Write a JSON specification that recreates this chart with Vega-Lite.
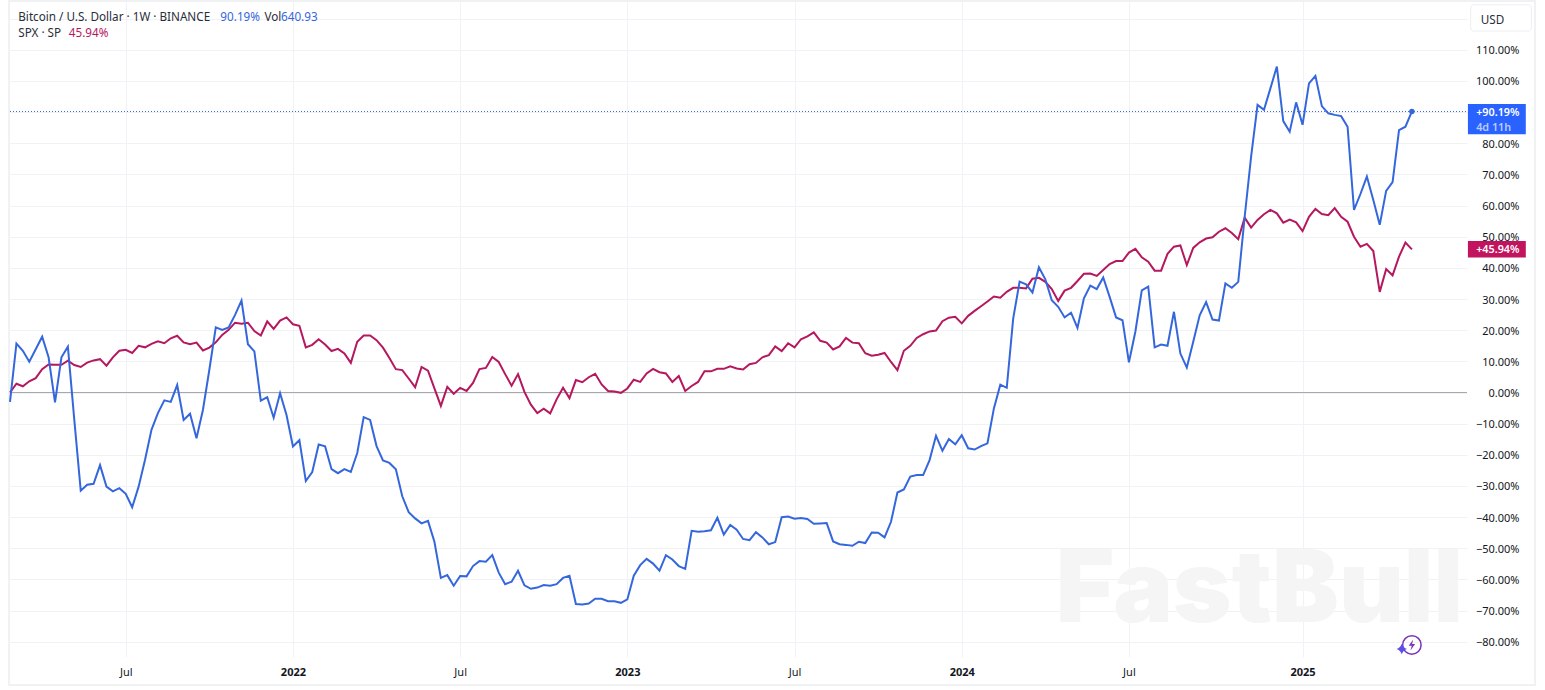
{"$schema":"https://vega.github.io/schema/vega-lite/v6.json","width":1457,"height":656,"autosize":{"type":"none"},"padding":{"left":10,"top":1,"right":78,"bottom":33},"background":"#ffffff","config":{"view":{"stroke":null},"font":"Noto Sans"},
"datasets":{"weekly":[
{"week":"2021-03-01","series":"SPX","value":0},{"week":"2021-03-08","series":"SPX","value":2.8},{"week":"2021-03-15","series":"SPX","value":2},{"week":"2021-03-22","series":"SPX","value":3.6},{"week":"2021-03-29","series":"SPX","value":4.6},{"week":"2021-04-05","series":"SPX","value":7.5},{"week":"2021-04-12","series":"SPX","value":9},{"week":"2021-04-19","series":"SPX","value":8.9},{"week":"2021-04-26","series":"SPX","value":8.9},{"week":"2021-05-03","series":"SPX","value":10.2},{"week":"2021-05-10","series":"SPX","value":8.8},{"week":"2021-05-17","series":"SPX","value":8.2},{"week":"2021-05-24","series":"SPX","value":9.6},{"week":"2021-05-31","series":"SPX","value":10.3},{"week":"2021-06-07","series":"SPX","value":10.7},{"week":"2021-06-14","series":"SPX","value":8.6},{"week":"2021-06-21","series":"SPX","value":11.3},{"week":"2021-06-28","series":"SPX","value":13.4},{"week":"2021-07-05","series":"SPX","value":13.7},{"week":"2021-07-12","series":"SPX","value":12.7},{"week":"2021-07-19","series":"SPX","value":15},{"week":"2021-07-26","series":"SPX","value":14.5},{"week":"2021-08-02","series":"SPX","value":15.6},{"week":"2021-08-09","series":"SPX","value":16.4},{"week":"2021-08-16","series":"SPX","value":15.8},{"week":"2021-08-23","series":"SPX","value":17.4},{"week":"2021-08-30","series":"SPX","value":18.2},{"week":"2021-09-06","series":"SPX","value":16.1},{"week":"2021-09-13","series":"SPX","value":15.5},{"week":"2021-09-20","series":"SPX","value":16},{"week":"2021-09-27","series":"SPX","value":13.5},{"week":"2021-10-04","series":"SPX","value":14.4},{"week":"2021-10-11","series":"SPX","value":16.1},{"week":"2021-10-18","series":"SPX","value":18.5},{"week":"2021-10-25","series":"SPX","value":20.1},{"week":"2021-11-01","series":"SPX","value":22.4},{"week":"2021-11-08","series":"SPX","value":22.1},{"week":"2021-11-15","series":"SPX","value":22.4},{"week":"2021-11-22","series":"SPX","value":19.7},{"week":"2021-11-29","series":"SPX","value":18.3},{"week":"2021-12-06","series":"SPX","value":22.8},{"week":"2021-12-13","series":"SPX","value":20.4},{"week":"2021-12-20","series":"SPX","value":23.1},{"week":"2021-12-27","series":"SPX","value":24.1},{"week":"2022-01-03","series":"SPX","value":21.9},{"week":"2022-01-10","series":"SPX","value":21.4},{"week":"2022-01-17","series":"SPX","value":14.5},{"week":"2022-01-24","series":"SPX","value":15.3},{"week":"2022-01-31","series":"SPX","value":17.1},{"week":"2022-02-07","series":"SPX","value":15.4},{"week":"2022-02-14","series":"SPX","value":13.3},{"week":"2022-02-21","series":"SPX","value":14},{"week":"2022-02-28","series":"SPX","value":12.5},{"week":"2022-03-07","series":"SPX","value":9.5},{"week":"2022-03-14","series":"SPX","value":16.3},{"week":"2022-03-21","series":"SPX","value":18.3},{"week":"2022-03-28","series":"SPX","value":18.3},{"week":"2022-04-04","series":"SPX","value":16.8},{"week":"2022-04-11","series":"SPX","value":14.4},{"week":"2022-04-18","series":"SPX","value":11.1},{"week":"2022-04-25","series":"SPX","value":7.5},{"week":"2022-05-02","series":"SPX","value":7.2},{"week":"2022-05-09","series":"SPX","value":4.5},{"week":"2022-05-16","series":"SPX","value":1.7},{"week":"2022-05-23","series":"SPX","value":8.2},{"week":"2022-05-30","series":"SPX","value":7},{"week":"2022-06-06","series":"SPX","value":1.3},{"week":"2022-06-13","series":"SPX","value":-4.3},{"week":"2022-06-20","series":"SPX","value":1.8},{"week":"2022-06-27","series":"SPX","value":-0.4},{"week":"2022-07-04","series":"SPX","value":1.5},{"week":"2022-07-11","series":"SPX","value":0.5},{"week":"2022-07-18","series":"SPX","value":3.1},{"week":"2022-07-25","series":"SPX","value":7.5},{"week":"2022-08-01","series":"SPX","value":7.9},{"week":"2022-08-08","series":"SPX","value":11.4},{"week":"2022-08-15","series":"SPX","value":9.8},{"week":"2022-08-22","series":"SPX","value":5.9},{"week":"2022-08-29","series":"SPX","value":2.2},{"week":"2022-09-05","series":"SPX","value":5.9},{"week":"2022-09-12","series":"SPX","value":0.2},{"week":"2022-09-19","series":"SPX","value":-3.9},{"week":"2022-09-26","series":"SPX","value":-6.6},{"week":"2022-10-03","series":"SPX","value":-5.2},{"week":"2022-10-10","series":"SPX","value":-6.7},{"week":"2022-10-17","series":"SPX","value":-2.2},{"week":"2022-10-24","series":"SPX","value":1.5},{"week":"2022-10-31","series":"SPX","value":-1.8},{"week":"2022-11-07","series":"SPX","value":4},{"week":"2022-11-14","series":"SPX","value":3.3},{"week":"2022-11-21","series":"SPX","value":4.9},{"week":"2022-11-28","series":"SPX","value":6},{"week":"2022-12-05","series":"SPX","value":2.6},{"week":"2022-12-12","series":"SPX","value":0.5},{"week":"2022-12-19","series":"SPX","value":0.3},{"week":"2022-12-26","series":"SPX","value":-0.1},{"week":"2023-01-02","series":"SPX","value":1.3},{"week":"2023-01-09","series":"SPX","value":4.1},{"week":"2023-01-16","series":"SPX","value":3.4},{"week":"2023-01-23","series":"SPX","value":6.1},{"week":"2023-01-30","series":"SPX","value":7.6},{"week":"2023-02-06","series":"SPX","value":6.5},{"week":"2023-02-13","series":"SPX","value":6.1},{"week":"2023-02-20","series":"SPX","value":3.4},{"week":"2023-02-27","series":"SPX","value":5.3},{"week":"2023-03-06","series":"SPX","value":0.5},{"week":"2023-03-13","series":"SPX","value":2.1},{"week":"2023-03-20","series":"SPX","value":3.4},{"week":"2023-03-27","series":"SPX","value":6.8},{"week":"2023-04-03","series":"SPX","value":6.8},{"week":"2023-04-10","series":"SPX","value":7.6},{"week":"2023-04-17","series":"SPX","value":7.6},{"week":"2023-04-24","series":"SPX","value":8.4},{"week":"2023-05-01","series":"SPX","value":7.7},{"week":"2023-05-08","series":"SPX","value":7.4},{"week":"2023-05-15","series":"SPX","value":9.1},{"week":"2023-05-22","series":"SPX","value":9.5},{"week":"2023-05-29","series":"SPX","value":11.3},{"week":"2023-06-05","series":"SPX","value":12},{"week":"2023-06-12","series":"SPX","value":14.8},{"week":"2023-06-19","series":"SPX","value":13.3},{"week":"2023-06-26","series":"SPX","value":15.8},{"week":"2023-07-03","series":"SPX","value":14.5},{"week":"2023-07-10","series":"SPX","value":17.1},{"week":"2023-07-17","series":"SPX","value":18},{"week":"2023-07-24","series":"SPX","value":19.3},{"week":"2023-07-31","series":"SPX","value":16.6},{"week":"2023-08-07","series":"SPX","value":16},{"week":"2023-08-14","series":"SPX","value":13.8},{"week":"2023-08-21","series":"SPX","value":14.8},{"week":"2023-08-28","series":"SPX","value":17.5},{"week":"2023-09-04","series":"SPX","value":16},{"week":"2023-09-11","series":"SPX","value":15.8},{"week":"2023-09-18","series":"SPX","value":12.6},{"week":"2023-09-25","series":"SPX","value":11.8},{"week":"2023-10-02","series":"SPX","value":12.1},{"week":"2023-10-09","series":"SPX","value":12.7},{"week":"2023-10-16","series":"SPX","value":9.8},{"week":"2023-10-23","series":"SPX","value":7.2},{"week":"2023-10-30","series":"SPX","value":13.4},{"week":"2023-11-06","series":"SPX","value":15},{"week":"2023-11-13","series":"SPX","value":17.5},{"week":"2023-11-20","series":"SPX","value":18.7},{"week":"2023-11-27","series":"SPX","value":19.6},{"week":"2023-12-04","series":"SPX","value":19.9},{"week":"2023-12-11","series":"SPX","value":22.9},{"week":"2023-12-18","series":"SPX","value":24},{"week":"2023-12-25","series":"SPX","value":24.3},{"week":"2024-01-01","series":"SPX","value":22.2},{"week":"2024-01-08","series":"SPX","value":24.6},{"week":"2024-01-15","series":"SPX","value":26.2},{"week":"2024-01-22","series":"SPX","value":27.7},{"week":"2024-01-29","series":"SPX","value":29.2},{"week":"2024-02-05","series":"SPX","value":30.8},{"week":"2024-02-12","series":"SPX","value":30.4},{"week":"2024-02-19","series":"SPX","value":32.3},{"week":"2024-02-26","series":"SPX","value":33.6},{"week":"2024-03-04","series":"SPX","value":33.6},{"week":"2024-03-11","series":"SPX","value":33.4},{"week":"2024-03-18","series":"SPX","value":36.5},{"week":"2024-03-25","series":"SPX","value":36.8},{"week":"2024-04-01","series":"SPX","value":35.5},{"week":"2024-04-08","series":"SPX","value":33.2},{"week":"2024-04-15","series":"SPX","value":29.4},{"week":"2024-04-22","series":"SPX","value":32.7},{"week":"2024-04-29","series":"SPX","value":33.6},{"week":"2024-05-06","series":"SPX","value":35.8},{"week":"2024-05-13","series":"SPX","value":38.1},{"week":"2024-05-20","series":"SPX","value":38.2},{"week":"2024-05-27","series":"SPX","value":37.4},{"week":"2024-06-03","series":"SPX","value":39.3},{"week":"2024-06-10","series":"SPX","value":41.2},{"week":"2024-06-17","series":"SPX","value":42.2},{"week":"2024-06-24","series":"SPX","value":42.2},{"week":"2024-07-01","series":"SPX","value":44.9},{"week":"2024-07-08","series":"SPX","value":46.1},{"week":"2024-07-15","series":"SPX","value":43.4},{"week":"2024-07-22","series":"SPX","value":42},{"week":"2024-07-29","series":"SPX","value":39.1},{"week":"2024-08-05","series":"SPX","value":39.1},{"week":"2024-08-12","series":"SPX","value":44.5},{"week":"2024-08-19","series":"SPX","value":46.8},{"week":"2024-08-26","series":"SPX","value":47.2},{"week":"2024-09-02","series":"SPX","value":40.9},{"week":"2024-09-09","series":"SPX","value":46.4},{"week":"2024-09-16","series":"SPX","value":48.2},{"week":"2024-09-23","series":"SPX","value":49.4},{"week":"2024-09-30","series":"SPX","value":49.8},{"week":"2024-10-07","series":"SPX","value":51.6},{"week":"2024-10-14","series":"SPX","value":52.7},{"week":"2024-10-21","series":"SPX","value":51.2},{"week":"2024-10-28","series":"SPX","value":49.2},{"week":"2024-11-04","series":"SPX","value":56.1},{"week":"2024-11-11","series":"SPX","value":52.9},{"week":"2024-11-18","series":"SPX","value":55.4},{"week":"2024-11-25","series":"SPX","value":57.2},{"week":"2024-12-02","series":"SPX","value":58.6},{"week":"2024-12-09","series":"SPX","value":57.5},{"week":"2024-12-16","series":"SPX","value":54.5},{"week":"2024-12-23","series":"SPX","value":55.5},{"week":"2024-12-30","series":"SPX","value":54.6},{"week":"2025-01-06","series":"SPX","value":51.8},{"week":"2025-01-13","series":"SPX","value":56.4},{"week":"2025-01-20","series":"SPX","value":58.9},{"week":"2025-01-27","series":"SPX","value":57.3},{"week":"2025-02-03","series":"SPX","value":56.9},{"week":"2025-02-10","series":"SPX","value":59.2},{"week":"2025-02-17","series":"SPX","value":56.4},{"week":"2025-02-24","series":"SPX","value":54.8},{"week":"2025-03-03","series":"SPX","value":50},{"week":"2025-03-10","series":"SPX","value":46.8},{"week":"2025-03-17","series":"SPX","value":47.7},{"week":"2025-03-24","series":"SPX","value":45.4},{"week":"2025-03-31","series":"SPX","value":32.3},{"week":"2025-04-07","series":"SPX","value":39.6},{"week":"2025-04-14","series":"SPX","value":37.6},{"week":"2025-04-21","series":"SPX","value":43.6},{"week":"2025-04-28","series":"SPX","value":48.1},{"week":"2025-05-05","series":"SPX","value":45.94},
{"week":"2021-03-01","series":"Bitcoin","value":-3},{"week":"2021-03-08","series":"Bitcoin","value":15.7},{"week":"2021-03-15","series":"Bitcoin","value":13.4},{"week":"2021-03-22","series":"Bitcoin","value":9.9},{"week":"2021-03-29","series":"Bitcoin","value":13.9},{"week":"2021-04-05","series":"Bitcoin","value":17.9},{"week":"2021-04-12","series":"Bitcoin","value":11.3},{"week":"2021-04-19","series":"Bitcoin","value":-3.2},{"week":"2021-04-26","series":"Bitcoin","value":11.3},{"week":"2021-05-03","series":"Bitcoin","value":14.7},{"week":"2021-05-10","series":"Bitcoin","value":-8.8},{"week":"2021-05-17","series":"Bitcoin","value":-31.5},{"week":"2021-05-24","series":"Bitcoin","value":-29.6},{"week":"2021-05-31","series":"Bitcoin","value":-29.3},{"week":"2021-06-07","series":"Bitcoin","value":-23.3},{"week":"2021-06-14","series":"Bitcoin","value":-30.2},{"week":"2021-06-21","series":"Bitcoin","value":-31.7},{"week":"2021-06-28","series":"Bitcoin","value":-30.7},{"week":"2021-07-05","series":"Bitcoin","value":-32.5},{"week":"2021-07-12","series":"Bitcoin","value":-36.8},{"week":"2021-07-19","series":"Bitcoin","value":-30.2},{"week":"2021-07-26","series":"Bitcoin","value":-21.6},{"week":"2021-08-02","series":"Bitcoin","value":-12},{"week":"2021-08-09","series":"Bitcoin","value":-6.6},{"week":"2021-08-16","series":"Bitcoin","value":-2.5},{"week":"2021-08-23","series":"Bitcoin","value":-3},{"week":"2021-08-30","series":"Bitcoin","value":2.4},{"week":"2021-09-06","series":"Bitcoin","value":-8.8},{"week":"2021-09-13","series":"Bitcoin","value":-6.8},{"week":"2021-09-20","series":"Bitcoin","value":-14.7},{"week":"2021-09-27","series":"Bitcoin","value":-5.6},{"week":"2021-10-04","series":"Bitcoin","value":7.3},{"week":"2021-10-11","series":"Bitcoin","value":20.9},{"week":"2021-10-18","series":"Bitcoin","value":20.1},{"week":"2021-10-25","series":"Bitcoin","value":20.9},{"week":"2021-11-01","series":"Bitcoin","value":24.9},{"week":"2021-11-08","series":"Bitcoin","value":29.5},{"week":"2021-11-15","series":"Bitcoin","value":15.5},{"week":"2021-11-22","series":"Bitcoin","value":13.2},{"week":"2021-11-29","series":"Bitcoin","value":-2.6},{"week":"2021-12-06","series":"Bitcoin","value":-1.5},{"week":"2021-12-13","series":"Bitcoin","value":-8.1},{"week":"2021-12-20","series":"Bitcoin","value":-0.2},{"week":"2021-12-27","series":"Bitcoin","value":-7.2},{"week":"2022-01-03","series":"Bitcoin","value":-17.3},{"week":"2022-01-10","series":"Bitcoin","value":-15.3},{"week":"2022-01-17","series":"Bitcoin","value":-28.4},{"week":"2022-01-24","series":"Bitcoin","value":-25.5},{"week":"2022-01-31","series":"Bitcoin","value":-16.7},{"week":"2022-02-07","series":"Bitcoin","value":-17.3},{"week":"2022-02-14","series":"Bitcoin","value":-24.6},{"week":"2022-02-21","series":"Bitcoin","value":-25.9},{"week":"2022-02-28","series":"Bitcoin","value":-24.6},{"week":"2022-03-07","series":"Bitcoin","value":-25.5},{"week":"2022-03-14","series":"Bitcoin","value":-19.4},{"week":"2022-03-21","series":"Bitcoin","value":-7.9},{"week":"2022-03-28","series":"Bitcoin","value":-8.8},{"week":"2022-04-04","series":"Bitcoin","value":-17.2},{"week":"2022-04-11","series":"Bitcoin","value":-21.8},{"week":"2022-04-18","series":"Bitcoin","value":-22.6},{"week":"2022-04-25","series":"Bitcoin","value":-24.6},{"week":"2022-05-02","series":"Bitcoin","value":-33.3},{"week":"2022-05-09","series":"Bitcoin","value":-38.4},{"week":"2022-05-16","series":"Bitcoin","value":-40.4},{"week":"2022-05-23","series":"Bitcoin","value":-42},{"week":"2022-05-30","series":"Bitcoin","value":-41.2},{"week":"2022-06-06","series":"Bitcoin","value":-47.9},{"week":"2022-06-13","series":"Bitcoin","value":-59.5},{"week":"2022-06-20","series":"Bitcoin","value":-58.6},{"week":"2022-06-27","series":"Bitcoin","value":-62},{"week":"2022-07-04","series":"Bitcoin","value":-58.9},{"week":"2022-07-11","series":"Bitcoin","value":-59},{"week":"2022-07-18","series":"Bitcoin","value":-55.7},{"week":"2022-07-25","series":"Bitcoin","value":-54.1},{"week":"2022-08-01","series":"Bitcoin","value":-54.3},{"week":"2022-08-08","series":"Bitcoin","value":-52.2},{"week":"2022-08-15","series":"Bitcoin","value":-57.8},{"week":"2022-08-22","series":"Bitcoin","value":-61.5},{"week":"2022-08-29","series":"Bitcoin","value":-60.7},{"week":"2022-09-05","series":"Bitcoin","value":-57.2},{"week":"2022-09-12","series":"Bitcoin","value":-61.9},{"week":"2022-09-19","series":"Bitcoin","value":-63},{"week":"2022-09-26","series":"Bitcoin","value":-62.6},{"week":"2022-10-03","series":"Bitcoin","value":-61.8},{"week":"2022-10-10","series":"Bitcoin","value":-62},{"week":"2022-10-17","series":"Bitcoin","value":-61.5},{"week":"2022-10-24","series":"Bitcoin","value":-59.5},{"week":"2022-10-31","series":"Bitcoin","value":-58.8},{"week":"2022-11-07","series":"Bitcoin","value":-67.9},{"week":"2022-11-14","series":"Bitcoin","value":-68},{"week":"2022-11-21","series":"Bitcoin","value":-67.7},{"week":"2022-11-28","series":"Bitcoin","value":-66.2},{"week":"2022-12-05","series":"Bitcoin","value":-66.2},{"week":"2022-12-12","series":"Bitcoin","value":-67},{"week":"2022-12-19","series":"Bitcoin","value":-67},{"week":"2022-12-26","series":"Bitcoin","value":-67.5},{"week":"2023-01-02","series":"Bitcoin","value":-66.4},{"week":"2023-01-09","series":"Bitcoin","value":-58.8},{"week":"2023-01-16","series":"Bitcoin","value":-55.4},{"week":"2023-01-23","series":"Bitcoin","value":-53.4},{"week":"2023-01-30","series":"Bitcoin","value":-54.9},{"week":"2023-02-06","series":"Bitcoin","value":-57.2},{"week":"2023-02-13","series":"Bitcoin","value":-52.2},{"week":"2023-02-20","series":"Bitcoin","value":-53.6},{"week":"2023-02-27","series":"Bitcoin","value":-55.7},{"week":"2023-03-06","series":"Bitcoin","value":-56.6},{"week":"2023-03-13","series":"Bitcoin","value":-44.4},{"week":"2023-03-20","series":"Bitcoin","value":-44.7},{"week":"2023-03-27","series":"Bitcoin","value":-44.5},{"week":"2023-04-03","series":"Bitcoin","value":-44.2},{"week":"2023-04-10","series":"Bitcoin","value":-40.2},{"week":"2023-04-17","series":"Bitcoin","value":-45.6},{"week":"2023-04-24","series":"Bitcoin","value":-42.5},{"week":"2023-05-01","series":"Bitcoin","value":-44},{"week":"2023-05-08","series":"Bitcoin","value":-47},{"week":"2023-05-15","series":"Bitcoin","value":-47.4},{"week":"2023-05-22","series":"Bitcoin","value":-44.8},{"week":"2023-05-29","series":"Bitcoin","value":-46.5},{"week":"2023-06-05","series":"Bitcoin","value":-48.7},{"week":"2023-06-12","series":"Bitcoin","value":-48},{"week":"2023-06-19","series":"Bitcoin","value":-40},{"week":"2023-06-26","series":"Bitcoin","value":-39.8},{"week":"2023-07-03","series":"Bitcoin","value":-40.5},{"week":"2023-07-10","series":"Bitcoin","value":-40.3},{"week":"2023-07-17","series":"Bitcoin","value":-40.6},{"week":"2023-07-24","series":"Bitcoin","value":-42.1},{"week":"2023-07-31","series":"Bitcoin","value":-42},{"week":"2023-08-07","series":"Bitcoin","value":-41.9},{"week":"2023-08-14","series":"Bitcoin","value":-47.8},{"week":"2023-08-21","series":"Bitcoin","value":-48.7},{"week":"2023-08-28","series":"Bitcoin","value":-48.9},{"week":"2023-09-04","series":"Bitcoin","value":-49.2},{"week":"2023-09-11","series":"Bitcoin","value":-47.9},{"week":"2023-09-18","series":"Bitcoin","value":-48.3},{"week":"2023-09-25","series":"Bitcoin","value":-44.9},{"week":"2023-10-02","series":"Bitcoin","value":-45},{"week":"2023-10-09","series":"Bitcoin","value":-46.5},{"week":"2023-10-16","series":"Bitcoin","value":-41.5},{"week":"2023-10-23","series":"Bitcoin","value":-32.1},{"week":"2023-10-30","series":"Bitcoin","value":-31.1},{"week":"2023-11-06","series":"Bitcoin","value":-27},{"week":"2023-11-13","series":"Bitcoin","value":-26.5},{"week":"2023-11-20","series":"Bitcoin","value":-26.5},{"week":"2023-11-27","series":"Bitcoin","value":-21.7},{"week":"2023-12-04","series":"Bitcoin","value":-13.9},{"week":"2023-12-11","series":"Bitcoin","value":-18.7},{"week":"2023-12-18","series":"Bitcoin","value":-14.9},{"week":"2023-12-25","series":"Bitcoin","value":-16.6},{"week":"2024-01-01","series":"Bitcoin","value":-13.7},{"week":"2024-01-08","series":"Bitcoin","value":-17.9},{"week":"2024-01-15","series":"Bitcoin","value":-18.3},{"week":"2024-01-22","series":"Bitcoin","value":-17.2},{"week":"2024-01-29","series":"Bitcoin","value":-16.3},{"week":"2024-02-05","series":"Bitcoin","value":-5.1},{"week":"2024-02-12","series":"Bitcoin","value":2.5},{"week":"2024-02-19","series":"Bitcoin","value":1.5},{"week":"2024-02-26","series":"Bitcoin","value":23.7},{"week":"2024-03-04","series":"Bitcoin","value":35.6},{"week":"2024-03-11","series":"Bitcoin","value":34.7},{"week":"2024-03-18","series":"Bitcoin","value":32.1},{"week":"2024-03-25","series":"Bitcoin","value":40.2},{"week":"2024-04-01","series":"Bitcoin","value":36.3},{"week":"2024-04-08","series":"Bitcoin","value":29.6},{"week":"2024-04-15","series":"Bitcoin","value":27.5},{"week":"2024-04-22","series":"Bitcoin","value":24.1},{"week":"2024-04-29","series":"Bitcoin","value":25.6},{"week":"2024-05-06","series":"Bitcoin","value":20.7},{"week":"2024-05-13","series":"Bitcoin","value":30.2},{"week":"2024-05-20","series":"Bitcoin","value":34.3},{"week":"2024-05-27","series":"Bitcoin","value":33.2},{"week":"2024-06-03","series":"Bitcoin","value":36.9},{"week":"2024-06-10","series":"Bitcoin","value":30.7},{"week":"2024-06-17","series":"Bitcoin","value":24.1},{"week":"2024-06-24","series":"Bitcoin","value":23.2},{"week":"2024-07-01","series":"Bitcoin","value":9.7},{"week":"2024-07-08","series":"Bitcoin","value":19.5},{"week":"2024-07-15","series":"Bitcoin","value":32.8},{"week":"2024-07-22","series":"Bitcoin","value":34},{"week":"2024-07-29","series":"Bitcoin","value":14.5},{"week":"2024-08-05","series":"Bitcoin","value":15.4},{"week":"2024-08-12","series":"Bitcoin","value":15},{"week":"2024-08-19","series":"Bitcoin","value":25.9},{"week":"2024-08-26","series":"Bitcoin","value":12.5},{"week":"2024-09-02","series":"Bitcoin","value":8},{"week":"2024-09-09","series":"Bitcoin","value":16.3},{"week":"2024-09-16","series":"Bitcoin","value":24.8},{"week":"2024-09-23","series":"Bitcoin","value":29},{"week":"2024-09-30","series":"Bitcoin","value":23.4},{"week":"2024-10-07","series":"Bitcoin","value":23.1},{"week":"2024-10-14","series":"Bitcoin","value":35},{"week":"2024-10-21","series":"Bitcoin","value":33.6},{"week":"2024-10-28","series":"Bitcoin","value":35.5},{"week":"2024-11-04","series":"Bitcoin","value":56.4},{"week":"2024-11-11","series":"Bitcoin","value":75.7},{"week":"2024-11-18","series":"Bitcoin","value":92.3},{"week":"2024-11-25","series":"Bitcoin","value":90.7},{"week":"2024-12-02","series":"Bitcoin","value":97.6},{"week":"2024-12-09","series":"Bitcoin","value":104.6},{"week":"2024-12-16","series":"Bitcoin","value":87.1},{"week":"2024-12-23","series":"Bitcoin","value":83.7},{"week":"2024-12-30","series":"Bitcoin","value":93.1},{"week":"2025-01-06","series":"Bitcoin","value":85.9},{"week":"2025-01-13","series":"Bitcoin","value":99.2},{"week":"2025-01-20","series":"Bitcoin","value":101.6},{"week":"2025-01-27","series":"Bitcoin","value":91.9},{"week":"2025-02-03","series":"Bitcoin","value":89.6},{"week":"2025-02-10","series":"Bitcoin","value":89.1},{"week":"2025-02-17","series":"Bitcoin","value":88.7},{"week":"2025-02-24","series":"Bitcoin","value":85.3},{"week":"2025-03-03","series":"Bitcoin","value":58.6},{"week":"2025-03-10","series":"Bitcoin","value":63.7},{"week":"2025-03-17","series":"Bitcoin","value":69.3},{"week":"2025-03-24","series":"Bitcoin","value":61.8},{"week":"2025-03-31","series":"Bitcoin","value":53.8},{"week":"2025-04-07","series":"Bitcoin","value":64.7},{"week":"2025-04-14","series":"Bitcoin","value":67.5},{"week":"2025-04-21","series":"Bitcoin","value":84.2},{"week":"2025-04-28","series":"Bitcoin","value":85.3},{"week":"2025-05-05","series":"Bitcoin","value":90.19}
],
"frames":[{"week":"2021-02-28","weekEnd":"2025-09-16","value":125.6,"valueEnd":-93.9}],
"tags":[{"week":"2025-07-05","weekEnd":"2025-09-06","value":92.6,"valueEnd":82.9,"series":"Bitcoin tag"},{"week":"2025-07-05","weekEnd":"2025-09-06","value":48.6,"valueEnd":43.3,"series":"SPX tag"}],
"currency":[{"week":"2025-07-08","weekEnd":"2025-09-12","value":124.4,"valueEnd":116}],
"rules":[{"week":"2021-03-01","weekEnd":"2025-07-04","value":0,"series":"Baseline"},{"week":"2021-03-01","weekEnd":"2025-07-04","value":90.19,"series":"Bitcoin"}],
"lastPoint":[{"week":"2025-05-05","value":90.19,"series":"Bitcoin"}],
"labels":[
{"week":"2021-03-10","value":120.5,"text":"Bitcoin / U.S. Dollar · 1W · BINANCE","series":"Plain"},
{"week":"2021-10-16","value":120.5,"text":"90.19%","series":"Bitcoin"},
{"week":"2021-12-03","value":120.5,"text":"Vol","series":"Plain"},
{"week":"2021-12-21","value":120.5,"text":"640.93","series":"Bitcoin"},
{"week":"2021-03-10","value":115.4,"text":"SPX · SP","series":"Plain"},
{"week":"2021-05-04","value":115.4,"text":"45.94%","series":"SPX"},
{"week":"2025-07-19","value":119.7,"text":"USD","series":"Plain"}],
"tagLabels":[
{"week":"2025-07-14","value":89.6,"text":"+90.19%","series":"White"},
{"week":"2025-07-14","value":85,"text":"4d 11h","series":"Faded"},
{"week":"2025-07-14","value":45.6,"text":"+45.94%","series":"White"}],
"watermark":[{"week":"2024-11-20","value":-73.6,"text":"FastBull"}],
"iconRing":[{"week":"2025-05-05","value":-81}],
"iconStar":[{"week":"2025-04-24","value":-82.3}]
},
"encoding":{
"x":{"field":"week","type":"temporal","title":null,"scale":{"type":"utc","domain":[{"year":2021,"month":3,"date":1,"utc":true},{"year":2025,"month":7,"date":4,"utc":true}]},
"axis":{"values":[{"year":2021,"month":7,"date":5,"utc":true},{"year":2022,"month":1,"date":3,"utc":true},{"year":2022,"month":7,"date":4,"utc":true},{"year":2023,"month":1,"date":2,"utc":true},{"year":2023,"month":7,"date":3,"utc":true},{"year":2024,"month":1,"date":1,"utc":true},{"year":2024,"month":7,"date":1,"utc":true},{"year":2025,"month":1,"date":6,"utc":true}],
"labelExpr":"utcmonth(datum.value)==6 ? 'Jul' : utcyear(datum.value)+''","labelFontWeight":{"condition":{"test":"utcmonth(datum.value)!=6","value":"bold"},"value":"normal"},"labelFont":"Noto Sans","labelFontSize":11,"labelColor":"#131722","labelPadding":9,"domain":false,"ticks":false,"grid":true,"gridColor":"#f1f2f5","gridWidth":1,"labelFlush":false,"labelOverlap":false}},
"y":{"field":"value","type":"quantitative","title":null,"scale":{"domain":[-84.88,125.64],"nice":false,"zero":false},
"axis":{"orient":"right","values":[-80,-70,-60,-50,-40,-30,-20,-10,0,10,20,30,40,50,60,70,80,90,100,110,120],"labelExpr":"datum.value==120 || datum.value==90 ? '' : format(datum.value,'.2f')+'%'","labelAlign":"right","labelPadding":52,"labelOffset":1,"labelFont":"Noto Sans","labelFontSize":11,"labelColor":"#131722","domain":false,"ticks":false,"grid":true,"gridColor":"#f1f2f5","gridWidth":1,"labelOverlap":false}},
"color":{"field":"series","type":"nominal","legend":null,"scale":{"domain":["Bitcoin","SPX","Bitcoin tag","SPX tag","Baseline","Plain","White","Faded"],"range":["#3567dc","#b5185f","#2962ff","#c2135f","#a6a8ad","#2a2e39","#ffffff","#b9ccff"]}}
},
"layer":[
{"data":{"name":"frames"},"mark":{"type":"rect","fill":null,"stroke":"#f0f1f3","strokeWidth":2,"clip":false},"encoding":{"color":{"value":null},"x2":{"field":"weekEnd"},"y2":{"field":"valueEnd"}}},
{"data":{"name":"watermark"},"mark":{"type":"text","font":"Inter","fontWeight":900,"fontSize":100,"align":"center","baseline":"alphabetic","clip":false},"encoding":{"color":{"value":"#f5f5f5"},"text":{"field":"text"}}},
{"data":{"name":"rules"},"mark":{"type":"rule"},"encoding":{"x2":{"field":"weekEnd"},"strokeDash":{"condition":{"test":"datum.value!=0","value":[1,2]},"value":[1,0]},"strokeWidth":{"value":1}}},
{"data":{"name":"weekly"},"mark":{"type":"line","strokeWidth":2,"strokeJoin":"miter"}},
{"data":{"name":"lastPoint"},"mark":{"type":"point","filled":true,"size":30,"opacity":1}},
{"data":{"name":"iconRing"},"mark":{"type":"point","shape":"circle","filled":false,"size":340,"strokeWidth":1.5,"opacity":1,"clip":false},"encoding":{"color":{"value":"#7b35b8"}}},
{"data":{"name":"iconRing"},"mark":{"type":"point","shape":"M0.15,-0.6 L-0.35,0.1 L-0.02,0.1 L-0.15,0.6 L0.35,-0.1 L0.02,-0.1 Z","filled":true,"size":340,"opacity":1,"clip":false},"encoding":{"color":{"value":"#7b35b8"}}},
{"data":{"name":"iconStar"},"mark":{"type":"point","shape":"M0,-1 Q0.25,-0.25 1,0 Q0.25,0.25 0,1 Q-0.25,0.25 -1,0 Q-0.25,-0.25 0,-1 Z","filled":true,"size":110,"opacity":1,"clip":false},"encoding":{"color":{"value":"#5b4fe8"}}},
{"data":{"name":"currency"},"mark":{"type":"rect","fill":"#ffffff","stroke":"#eceef2","strokeWidth":1,"cornerRadius":3,"clip":false},"encoding":{"color":{"value":null},"x2":{"field":"weekEnd"},"y2":{"field":"valueEnd"}}},
{"data":{"name":"tags"},"mark":{"type":"rect","clip":false},"encoding":{"x2":{"field":"weekEnd"},"y2":{"field":"valueEnd"}}},
{"data":{"name":"labels"},"mark":{"type":"text","font":"Noto Sans","fontSize":11.7,"align":"left","baseline":"middle","clip":false},"encoding":{"text":{"field":"text"}}},
{"data":{"name":"tagLabels"},"mark":{"type":"text","font":"Noto Sans","fontSize":10.8,"fontWeight":600,"align":"left","baseline":"middle","clip":false},"encoding":{"text":{"field":"text"}}}
]}
